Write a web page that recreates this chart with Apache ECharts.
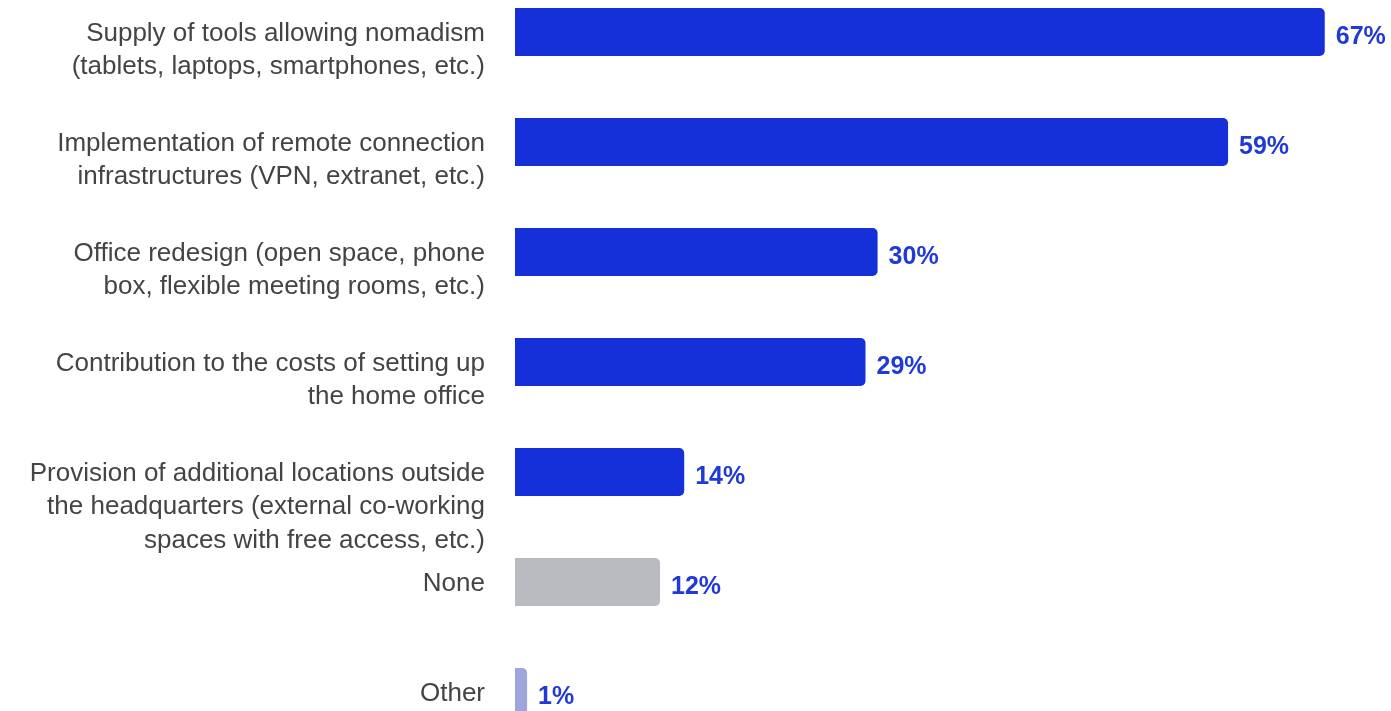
<!DOCTYPE html>
<html>
<head>
<meta charset="utf-8">
<script src="https://cdn.jsdelivr.net/npm/echarts@6/dist/echarts.min.js"></script>
<style>
  html, body { margin: 0; padding: 0; background: #ffffff; }
  #chart { width: 1391px; height: 711px; }
</style>
</head>
<body>
<div id="chart"></div>
<script>
// Measures taken to support hybrid / remote working
const categories = [
  'Supply of tools allowing nomadism\n(tablets, laptops, smartphones, etc.)',
  'Implementation of remote connection\ninfrastructures (VPN, extranet, etc.)',
  'Office redesign (open space, phone\nbox, flexible meeting rooms, etc.)',
  'Contribution to the costs of setting up\nthe home office',
  'Provision of additional locations outside\nthe headquarters (external co-working\nspaces with free access, etc.)',
  'None',
  'Other'
];
const values = [67, 59, 30, 29, 14, 12, 1];
const barColors = ['#1630D9', '#1630D9', '#1630D9', '#1630D9', '#1630D9', '#B8BBBF', '#9EA6DE'];

const FONT = "'Liberation Sans', Arial, sans-serif";

const chart = echarts.init(document.getElementById('chart'));
chart.setOption({
  animation: false,
  grid: {
    left: 515, top: -23, width: 846, height: 770,
    containLabel: false,
    outerBoundsMode: 'none'
  },
  xAxis: {
    type: 'value', min: 0, max: 70,
    show: false
  },
  yAxis: {
    type: 'category',
    data: categories,
    inverse: true,
    axisLine: { show: false },
    axisTick: { show: false },
    splitLine: { show: false },
    axisLabel: {
      margin: 30,
      fontFamily: FONT,
      fontSize: 26,
      lineHeight: 33.5,
      color: '#444444',
      align: 'right',
      verticalAlign: 'top',
      padding: [-15, 0, 0, 0]
    }
  },
  series: [{
    type: 'bar',
    barWidth: 48,
    data: values.map((v, i) => ({
      value: v,
      itemStyle: { color: barColors[i], borderRadius: [0, 5, 5, 0] }
    })),
    label: {
      show: true,
      position: 'right',
      distance: 11,
      offset: [0, 5],
      formatter: '{c}%',
      fontFamily: FONT,
      fontSize: 25,
      fontWeight: 'bold',
      color: '#1F3AD6'
    }
  }]
});
</script>
</body>
</html>
